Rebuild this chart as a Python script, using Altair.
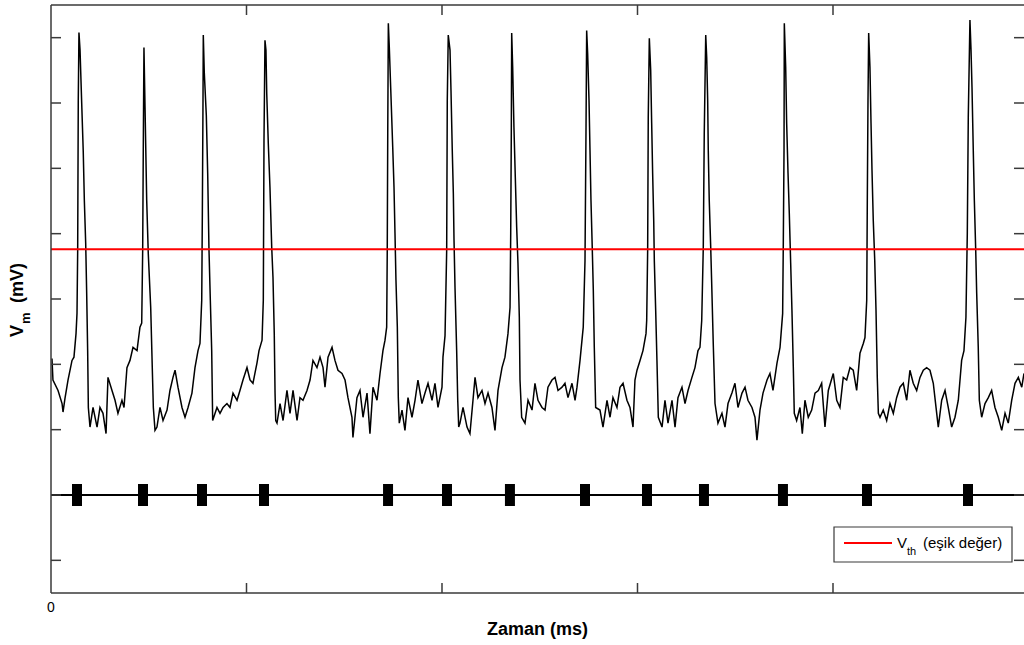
import altair as alt
import pandas as pd

# ---- membrane potential trace ----
time_ms = [
    1.0, 2.0, 7.2, 11.3, 12.3, 14.3, 17.4, 21.5, 23.5, 25.6, 26.6, 27.3, 27.9, 28.6,
    29.7, 31.4, 33.0, 34.1, 35.5, 36.5, 37.5, 38.2,
    39.9, 43.0, 47.1, 50.1, 53.2, 56.3, 58.3, 62.4, 65.5, 68.5, 72.6, 74.7, 77.7, 80.8, 83.9, 88.0, 91.0,
    92.8, 93.8, 94.4, 95.1,
    96.2, 97.9, 99.5, 102.0, 103.6, 104.7,
    106.4, 108.4, 111.5, 114.6, 118.7, 121.7, 124.8, 126.9, 129.9, 134.0, 137.1, 140.2, 144.2, 147.3,
    150.4, 152.4, 154.2, 154.8, 155.5, 155.8,
    156.8, 158.9, 160.3, 161.6, 163.0, 164.4, 165.4,
    169.8, 172.9, 176.0, 180.0, 183.1, 186.2, 190.3, 193.3, 196.4, 200.5, 203.6, 206.6, 210.7, 212.8,
    215.9, 217.2, 217.9, 218.9,
    219.9, 220.7, 222.3, 224.0, 225.8, 227.1, 228.4, 229.2, 229.9,
    231.2, 234.3, 237.4, 241.4, 244.5, 247.6, 251.7, 254.7, 257.8, 261.9, 265.0, 268.0, 272.1, 275.2,
    278.3, 280.3, 283.4, 287.5, 290.5, 293.6, 297.7, 300.8, 303.8, 307.9, 308.9, 313.0, 316.1, 319.2,
    323.3, 326.3, 329.4, 333.5, 336.6, 339.6, 341.7, 343.4, 344.0, 344.5, 345.1,
    346.1, 347.5, 349.6, 350.9, 351.9, 352.9, 354.3, 355.3, 356.3,
    359.1, 362.1, 365.2, 369.3, 372.4, 375.4, 379.5, 382.6, 385.7, 389.8, 392.8, 395.9, 400.0, 401.0,
    403.1, 404.8, 405.4, 406.4,
    408.2, 409.2, 410.5, 411.6, 412.3, 413.3, 415.0, 416.1, 417.1,
    418.4, 421.5, 425.6, 428.6, 431.7, 433.8, 436.8, 440.9, 444.0, 447.1, 451.1, 454.2, 457.3, 461.4,
    464.4, 467.5, 469.6, 470.3, 470.9, 471.3,
    472.3, 473.6, 475.0, 476.4, 477.7, 479.1, 479.8, 481.5,
    484.9, 488.0, 492.1, 495.1, 498.2, 502.3, 505.4, 508.4, 512.5, 515.6, 518.7, 522.8, 525.8, 528.9,
    533.0, 536.1, 538.1, 541.2, 544.5, 546.3, 547.3, 548.0,
    549.0, 550.4, 551.4, 552.4, 553.7, 554.8, 555.8, 557.2,
    561.6, 564.7, 568.8, 571.9, 574.9, 579.0, 582.1, 585.2, 589.2, 592.3, 595.4, 597.4, 599.5, 602.6,
    605.6, 608.7, 609.4, 610.4, 611.0, 612.1,
    613.5, 614.5, 615.5, 616.6, 617.2, 618.6, 619.9, 621.3,
    625.1, 628.1, 631.2, 635.3, 638.4, 641.4, 645.5, 648.6, 651.7, 655.7, 658.8, 661.9, 663.9,
    665.7, 667.3, 668.3, 669.8,
    670.8, 671.8, 672.4, 673.4, 674.9, 675.9, 677.5, 679.3,
    682.3, 686.4, 689.5, 692.6, 696.6, 699.7, 702.8, 706.9, 710.0, 713.0, 717.1, 720.2, 722.2, 725.3,
    728.4, 732.5, 735.5, 738.6, 742.7, 745.8, 748.5, 749.1, 749.9, 750.2,
    751.6, 752.6, 754.0, 755.3, 756.7, 758.0, 759.4, 760.4,
    762.8, 766.2, 768.6, 771.3, 774.7, 778.2, 781.6, 785.0, 788.4, 791.8, 795.2, 800.3, 803.8, 807.1,
    810.5, 814.0, 817.4, 820.7, 824.2, 827.6, 831.0, 832.7, 834.5, 835.1, 835.8, 836.5,
    837.8, 838.9, 839.9, 841.2, 842.7, 844.0, 845.3, 846.4,
    848.1, 851.4, 854.9, 858.3, 861.7, 865.1, 868.5, 871.9, 875.4, 878.7, 882.1, 885.6, 889.0, 892.4,
    895.8, 899.2, 902.6, 905.4, 907.7, 911.2, 914.6, 917.9, 921.4, 924.8, 928.2, 931.6, 934.0, 936.0,
    937.4, 938.4, 940.1,
    941.2, 942.2, 943.5, 944.6, 946.0, 947.0, 948.6, 949.7,
    952.1, 955.5, 958.9, 962.3, 965.7, 969.1, 972.6, 976.0, 979.3, 982.8, 986.2, 989.6, 993.1, 995.4,
]
vm_mV = [
    -69.1, -72.4, -74.0, -76.0, -77.3, -75.2, -72.4, -69.4, -68.9, -65.3, -62.2, -52.5, -29.6, -19.2,
    -21.9, -30.0, -37.5, -44.9, -51.5, -59.1, -67.9, -76.6,
    -79.6, -76.6, -79.6, -76.6, -77.5, -80.6, -72.0, -74.0, -75.5, -77.5, -75.5, -76.6, -70.5, -69.4, -67.4, -67.9, -64.3,
    -63.7, -52.5, -37.2, -21.5,
    -30.7, -44.9, -53.0, -61.3, -70.5, -76.6,
    -80.1, -79.6, -76.6, -78.6, -77.0, -74.0, -72.0, -70.9, -73.5, -76.6, -78.1, -76.6, -74.4, -70.5,
    -67.9, -66.8, -60.2, -47.5, -29.6, -19.6,
    -25.3, -31.9, -40.8, -52.3, -60.2, -67.9, -78.6,
    -76.6, -77.5, -76.6, -76.0, -76.6, -74.4, -75.5, -74.0, -72.4, -70.5, -72.4, -72.9, -69.8, -67.9,
    -66.3, -60.2, -35.7, -20.4,
    -21.9, -28.5, -36.2, -42.9, -52.1, -56.7, -65.3, -74.4, -78.6,
    -79.0, -76.0, -78.6, -74.0, -77.5, -74.0, -78.6, -75.1, -75.5, -74.0, -72.4, -69.4, -70.5, -68.9,
    -70.5, -73.5, -68.9, -67.4, -69.4, -70.9, -71.4, -72.4, -75.1, -78.1, -81.2, -75.1, -74.0, -78.1,
    -74.4, -80.6, -73.5, -75.5, -71.4, -67.9, -66.3, -64.3, -52.5, -34.6, -17.8,
    -21.5, -27.6, -36.8, -42.9, -49.9, -57.1, -64.3, -75.1, -79.0,
    -77.0, -80.1, -75.1, -78.1, -75.5, -72.4, -76.0, -74.4, -72.9, -75.5, -72.9, -76.6, -73.5, -68.9,
    -65.6, -52.5, -29.6, -19.6,
    -21.9, -28.1, -37.2, -43.8, -51.0, -58.2, -67.9, -75.5, -79.6,
    -79.0, -76.6, -79.6, -80.6, -75.5, -72.0, -75.1, -74.0, -76.0, -74.4, -76.6, -80.1, -74.0, -70.5,
    -68.9, -65.3, -61.3, -49.9, -34.6, -19.3,
    -24.5, -33.7, -41.4, -49.0, -54.5, -62.8, -72.4, -78.1,
    -79.0, -75.5, -77.0, -72.9, -75.5, -76.6, -77.0, -73.5, -72.4, -72.0, -74.0, -73.5, -72.9, -75.1,
    -72.9, -75.5, -73.5, -69.4, -64.3, -54.1, -34.6, -18.9,
    -22.4, -29.6, -37.2, -44.9, -52.1, -58.7, -67.4, -76.6,
    -77.0, -79.6, -75.5, -78.1, -75.1, -76.6, -73.5, -72.9, -75.5, -76.6, -79.6, -72.4, -70.9, -69.4,
    -67.9, -65.3, -63.3, -52.5, -32.2, -20.1,
    -25.0, -33.1, -40.8, -48.0, -54.1, -61.7, -69.4, -78.1,
    -79.6, -75.5, -79.0, -75.5, -79.6, -75.1, -73.5, -76.0, -74.0, -72.0, -70.5, -67.9, -67.4,
    -63.3, -52.1, -34.6, -19.6,
    -23.0, -29.6, -37.2, -44.9, -52.1, -57.6, -66.8, -76.0,
    -79.0, -77.5, -79.6, -76.0, -74.4, -72.9, -76.6, -74.4, -73.5, -75.5, -76.6, -78.1, -81.6, -77.0,
    -74.4, -72.4, -71.4, -74.0, -69.8, -67.4, -62.2, -52.5, -37.2, -17.8,
    -24.5, -33.1, -40.8, -46.9, -54.5, -61.7, -70.5, -77.5,
    -78.6, -76.6, -80.6, -75.5, -78.1, -77.0, -74.4, -74.0, -72.9, -79.6, -74.0, -71.4, -75.5, -76.6,
    -72.0, -72.4, -70.5, -70.9, -74.0, -68.3, -66.8, -65.9, -60.2, -44.9, -29.6, -19.3,
    -24.5, -33.1, -40.3, -48.0, -54.1, -61.7, -72.0, -77.5,
    -78.1, -77.0, -78.6, -76.0, -77.5, -75.1, -73.5, -72.9, -75.5, -70.9, -72.9, -74.0, -72.0, -70.9,
    -70.5, -70.9, -72.9, -76.6, -79.6, -75.5, -74.0, -76.6, -79.6, -78.1, -75.5, -69.4, -67.9, -62.8,
    -49.9, -32.2, -17.3,
    -21.9, -27.6, -37.2, -44.9, -52.5, -59.1, -67.4, -75.5,
    -78.1, -76.0, -75.1, -74.0, -76.6, -78.1, -80.1, -77.5, -79.0, -75.5, -72.9, -72.0, -73.5, -71.4,
]

# spike raster (ms) and reference levels (mV)
spike_times = [26.6, 94.1, 154.5, 217.9, 344.8, 405.1, 469.5, 546.3, 609.7, 668.0, 748.8, 834.8, 938.1]
raster_level = [-90]
threshold_mV = [-52.4]

x_label_values = [0]
x_label_texts = ["0"]
x_inner_ticks = [200, 400, 600, 800]
y_ticks = [-100, -90, -80, -70, -60, -50, -40, -30, -20]

x_title = "Zaman (ms)"
y_title_parts = ["V", "m", "(mV)"]
legend_parts = ["V", "th", "(eşik değer)"]

W, H = 973, 588
FONT = "Liberation Sans"
FRAME = "#3a3a3a"
xs = alt.Scale(domain=[0, 995.4], nice=False, zero=False)
ys = alt.Scale(domain=[-105, -15], nice=False, zero=False)

trace_df = pd.DataFrame({"t": time_ms, "v": vm_mV})

trace = alt.Chart(trace_df).mark_line(color="black", strokeWidth=1.5).encode(
    x=alt.X("t:Q", scale=xs, axis=None),
    y=alt.Y("v:Q", scale=ys, axis=None),
)

threshold = alt.Chart(pd.DataFrame({"v": threshold_mV})).mark_rule(
    color="#ff0000", strokeWidth=2).encode(y=alt.Y("v:Q", scale=ys, axis=None))

raster_line = alt.Chart(pd.DataFrame({"v": raster_level})).mark_rule(
    color="black", strokeWidth=2).encode(y=alt.Y("v:Q", scale=ys, axis=None))

raster_df = pd.DataFrame({"t": spike_times, "v": raster_level * len(spike_times)})
raster_marks = alt.Chart(raster_df).mark_tick(
    color="black", thickness=10, size=22, orient="vertical", opacity=1).encode(
    x=alt.X("t:Q", scale=xs, axis=None), y=alt.Y("v:Q", scale=ys, axis=None))

one = pd.DataFrame({"a": [0]})

# frame (left, bottom, top) and inward ticks
left_border = alt.Chart(one).mark_rule(color=FRAME, strokeWidth=1.5).encode(
    x=alt.value(0), y=alt.value(0), y2=alt.value(H))
bottom_border = alt.Chart(one).mark_rule(color=FRAME, strokeWidth=1.5).encode(
    x=alt.value(0), x2=alt.value(W + 5), y=alt.value(H))
top_border = alt.Chart(one).mark_rule(color=FRAME, strokeWidth=1.5).encode(
    x=alt.value(0), x2=alt.value(W + 5), y=alt.value(0))

ytick_df = pd.DataFrame({"v": y_ticks})
xtick_df = pd.DataFrame({"t": x_inner_ticks})
left_ticks = alt.Chart(ytick_df).mark_rule(color=FRAME, strokeWidth=1.5).encode(
    y=alt.Y("v:Q", scale=ys, axis=None), x=alt.value(0), x2=alt.value(10))
right_ticks = alt.Chart(ytick_df).mark_rule(color=FRAME, strokeWidth=1.5).encode(
    y=alt.Y("v:Q", scale=ys, axis=None), x=alt.value(W - 10), x2=alt.value(W))
bottom_ticks = alt.Chart(xtick_df).mark_rule(color=FRAME, strokeWidth=1.5).encode(
    x=alt.X("t:Q", scale=xs, axis=None), y=alt.value(H - 10), y2=alt.value(H))
top_ticks = alt.Chart(xtick_df).mark_rule(color=FRAME, strokeWidth=1.5).encode(
    x=alt.X("t:Q", scale=xs, axis=None), y=alt.value(0), y2=alt.value(10))

# x tick label and axis title
x_label = alt.Chart(pd.DataFrame({"t": x_label_values, "lab": x_label_texts})).mark_text(
    font=FONT, fontSize=14, align="center", baseline="top", color="black").encode(
    x=alt.X("t:Q", scale=xs, axis=None), y=alt.value(H + 8), text="lab:N")
x_title_mark = alt.Chart(one).mark_text(
    text=x_title, font=FONT, fontSize=18, fontWeight="bold", align="center",
    baseline="alphabetic", color="black").encode(x=alt.value(W / 2), y=alt.value(H + 42))

# legend box
leg_box = alt.Chart(one).mark_rect(fill="white", stroke=FRAME, strokeWidth=1.2).encode(
    x=alt.value(783), x2=alt.value(961), y=alt.value(522), y2=alt.value(557))
leg_line = alt.Chart(one).mark_rule(color="#ff0000", strokeWidth=2).encode(
    x=alt.value(793), x2=alt.value(841), y=alt.value(538))
leg_v = alt.Chart(one).mark_text(text=legend_parts[0], font=FONT, fontSize=15, align="left",
                                  baseline="alphabetic", color="black").encode(
    x=alt.value(846), y=alt.value(543))
leg_sub = alt.Chart(one).mark_text(text=legend_parts[1], font=FONT, fontSize=11, align="left",
                                    baseline="alphabetic", color="black").encode(
    x=alt.value(856), y=alt.value(550))
leg_txt = alt.Chart(one).mark_text(text=legend_parts[2], font=FONT, fontSize=15, align="left",
                                    baseline="alphabetic", color="black").encode(
    x=alt.value(872), y=alt.value(543))

# rotated y title with subscript
yt_v = alt.Chart(one).mark_text(text=y_title_parts[0], font=FONT, fontSize=18, fontWeight="bold",
                                 angle=270, align="left", baseline="alphabetic", color="black").encode(
    x=alt.value(-28), y=alt.value(332))
yt_m = alt.Chart(one).mark_text(text=y_title_parts[1], font=FONT, fontSize=13, fontWeight="bold",
                                 angle=270, align="left", baseline="alphabetic", color="black").encode(
    x=alt.value(-21), y=alt.value(319))
yt_u = alt.Chart(one).mark_text(text=y_title_parts[2], font=FONT, fontSize=18, fontWeight="bold",
                                 angle=270, align="left", baseline="alphabetic", color="black").encode(
    x=alt.value(-28), y=alt.value(298))

chart = alt.layer(
    trace, threshold, raster_line, raster_marks,
    left_border, bottom_border, top_border,
    left_ticks, right_ticks, bottom_ticks, top_ticks,
    x_label, x_title_mark,
    leg_box, leg_line, leg_v, leg_sub, leg_txt,
    yt_v, yt_m, yt_u,
).properties(
    width=W, height=H,
    autosize=alt.AutoSizeParams(type="none"),
    padding={"left": 51, "top": 5, "right": 0, "bottom": 52},
    background="white",
).configure_view(stroke="transparent")

chart.save("out.html", embed_options={"renderer": "svg", "actions": False})
